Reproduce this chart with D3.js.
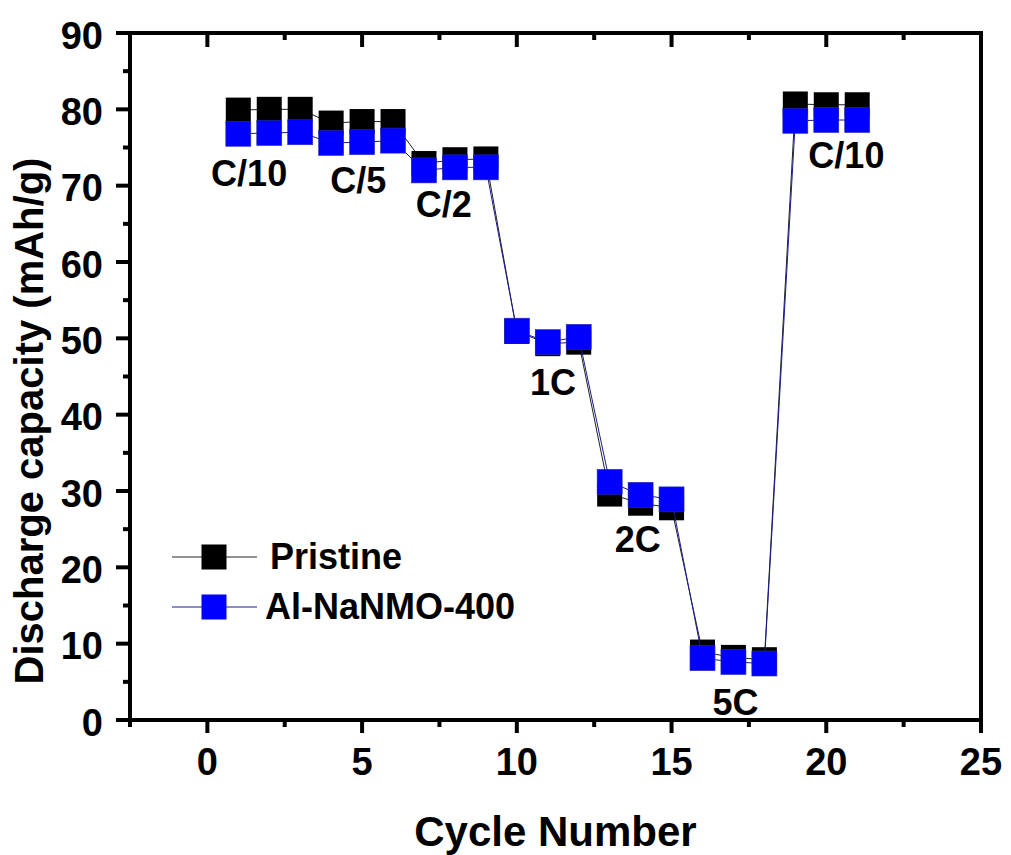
<!DOCTYPE html>
<html>
<head>
<style>
    body { margin: 0; background: #fff; }
    text { font-family: "Liberation Sans", Arial, sans-serif; font-weight: bold; fill: #000; }
    .tick-label { font-size: 38px; }
    .axis-title { font-size: 40px; }
    .x-title { font-size: 42px; }
    .rate { font-size: 36px; }
    .legend-text { font-size: 36px; }
</style>
</head>
<body>
<svg width="1011" height="855"></svg>
<script src="https://cdn.jsdelivr.net/npm/d3@7"></script>
<script>

// cycle numbers and discharge capacities (mAh/g)
var cycles   = [1, 2, 3, 4, 5, 6, 7, 8, 9, 10, 11, 12, 13, 14, 15, 16, 17, 18, 19, 20, 21];
var pristine = [79.9, 80.0, 80.0, 78.2, 78.4, 78.4, 72.9, 73.4, 73.5, 50.9, 49.3, 49.5, 29.6, 28.4, 27.8, 8.9, 8.2, 7.9, 80.7, 80.6, 80.6];
var alNaNMO  = [76.8, 76.9, 77.0, 75.6, 75.7, 75.9, 72.0, 72.4, 72.4, 51.0, 49.5, 50.2, 31.2, 29.5, 28.9, 8.1, 7.6, 7.4, 78.5, 78.6, 78.6];

var seriesNames = ["Pristine", "Al-NaNMO-400"];

// C-rate labels (x in cycles, y in mAh/g of the text baseline)
var rateLabels = ["C/10", "C/5", "C/2", "1C", "2C", "5C", "C/10"];
var rateX      = [1.35, 4.88, 7.64, 11.17, 13.91, 17.07, 20.65];
var rateY      = [70.0, 69.0, 65.9, 42.6, 22.0, 0.65, 72.3];

var xTicks = [0, 5, 10, 15, 20, 25];
var xMinor = [-2.5, 2.5, 7.5, 12.5, 17.5, 22.5];
var yTicks = [0, 10, 20, 30, 40, 50, 60, 70, 80, 90];
var yMinor = [5, 15, 25, 35, 45, 55, 65, 75, 85];

var svg = d3.select("svg"),
    pLeft = 130, pRight = 981, pTop = 33, pBottom = 720;

var x = d3.scaleLinear().domain([-2.5, 25]).range([pLeft, pRight]);
var y = d3.scaleLinear().domain([0, 90]).range([pBottom, pTop]);

var colors = { line: ["#222", "#1c1c8c"], fill: ["#000", "#0000ff"] };
var size = 25;

// series: line first, then square markers
[pristine, alNaNMO].forEach(function(vals, i) {
    var pts = cycles.map(function(c, k) { return [c, vals[k]]; });

    svg.append("path")
        .datum(pts)
        .attr("fill", "none")
        .attr("stroke", colors.line[i])
        .attr("stroke-width", 1)
        .attr("d", d3.line().x(function(d) { return x(d[0]); }).y(function(d) { return y(d[1]); }));

    svg.append("g").selectAll("rect")
        .data(pts)
        .enter().append("rect")
        .attr("x", function(d) { return x(d[0]) - size / 2; })
        .attr("y", function(d) { return y(d[1]) - size / 2; })
        .attr("width", size)
        .attr("height", size)
        .attr("fill", colors.fill[i])
        .attr("stroke", i ? "#2a2ab0" : "none")
        .attr("stroke-width", 0.6);
});

// frame
var frame = svg.append("g").attr("stroke", "#000").attr("stroke-width", 4).attr("fill", "none");
frame.append("rect")
    .attr("x", pLeft).attr("y", pTop)
    .attr("width", pRight - pLeft).attr("height", pBottom - pTop);

function vTicks(vals, y1, y2) {
    frame.append("g").selectAll("line").data(vals).enter().append("line")
        .attr("x1", function(d) { return x(d); }).attr("x2", function(d) { return x(d); })
        .attr("y1", y1).attr("y2", y2);
}
function hTicks(vals, x1, x2) {
    frame.append("g").selectAll("line").data(vals).enter().append("line")
        .attr("x1", x1).attr("x2", x2)
        .attr("y1", function(d) { return y(d); }).attr("y2", function(d) { return y(d); });
}

vTicks(xTicks, pBottom, pBottom + 13);   // bottom, outward
vTicks(xMinor, pBottom, pBottom + 7);
vTicks(xTicks, pTop, pTop + 14);         // top, inward
vTicks(xMinor, pTop, pTop + 7);
hTicks(yTicks, pLeft, pLeft - 14);       // left, outward
hTicks(yMinor, pLeft, pLeft - 7);

// tick labels
svg.append("g").selectAll("text").data(xTicks).enter().append("text")
    .attr("class", "tick-label")
    .attr("x", function(d) { return x(d); })
    .attr("y", 775)
    .attr("text-anchor", "middle")
    .text(function(d) { return d; });

svg.append("g").selectAll("text").data(yTicks).enter().append("text")
    .attr("class", "tick-label")
    .attr("x", 103)
    .attr("y", function(d) { return y(d) + 2; })
    .attr("dy", "0.36em")
    .attr("text-anchor", "end")
    .text(function(d) { return d; });

// axis titles
svg.append("text")
    .attr("class", "x-title")
    .attr("x", (pLeft + pRight) / 2)
    .attr("y", 846)
    .attr("text-anchor", "middle")
    .text("Cycle Number");

svg.append("text")
    .attr("class", "axis-title")
    .attr("transform", "translate(43,421) rotate(-90)")
    .attr("text-anchor", "middle")
    .text("Discharge capacity (mAh/g)");

// rate annotations
svg.append("g").selectAll("text").data(rateLabels).enter().append("text")
    .attr("class", "rate")
    .attr("x", function(d, i) { return x(rateX[i]); })
    .attr("y", function(d, i) { return y(rateY[i]); })
    .attr("text-anchor", "middle")
    .text(function(d) { return d; });

// legend
var legend = svg.append("g");
seriesNames.forEach(function(name, i) {
    var ly = 557 + i * 50;
    legend.append("line")
        .attr("x1", 172).attr("x2", 257)
        .attr("y1", ly).attr("y2", ly)
        .attr("stroke", colors.line[i]).attr("stroke-width", 1);
    legend.append("rect")
        .attr("x", 214 - size / 2).attr("y", ly - size / 2)
        .attr("width", size).attr("height", size)
        .attr("fill", colors.fill[i]);
    legend.append("text")
        .attr("class", "legend-text")
        .attr("x", i ? 265 : 270)
        .attr("y", ly + 12)
        .text(name);
});

</script>
</body>
</html>
